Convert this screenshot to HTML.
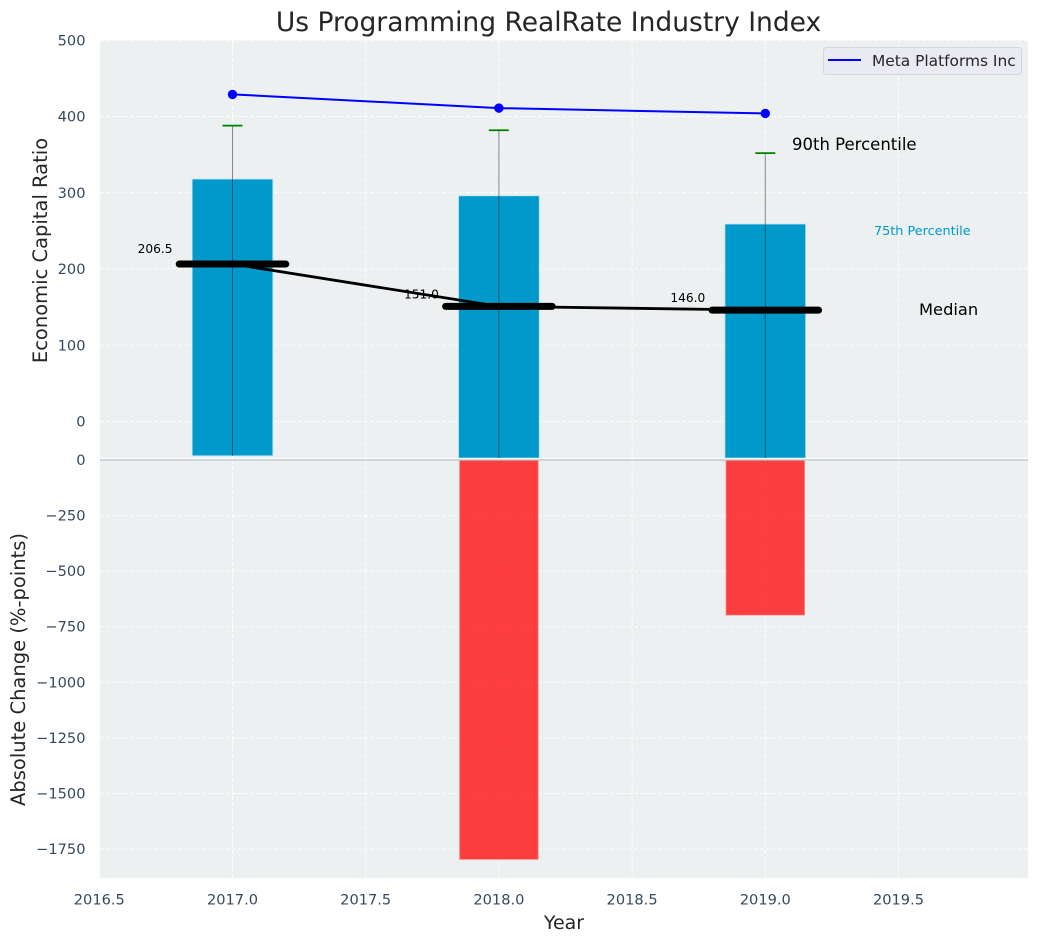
<!DOCTYPE html>
<html>
<head>
<meta charset="utf-8">
<title>Us Programming RealRate Industry Index</title>
<style>
html,body{margin:0;padding:0;background:#fff;width:1039px;height:942px;overflow:hidden}
svg{display:block}
text{font-family:"DejaVu Sans","Liberation Sans",sans-serif}
</style>
</head>
<body>
<svg id="chart" xmlns="http://www.w3.org/2000/svg" width="1039" height="942" viewBox="0 0 1039 942"></svg>
<script>
const years = [2017, 2018, 2019];
const p75 = [318, 296, 259];
const p25 = [-45, -48, -48];
const p90 = [388, 382, 352];
const medians = [206.5, 151.0, 146.0];
const company = [429, 411, 404];
const changes = [0, -1796, -697];
const xTicks = [2016.5, 2017.0, 2017.5, 2018.0, 2018.5, 2019.0, 2019.5];
const topTicks = [0, 100, 200, 300, 400, 500];
const bottomTicks = [0, -250, -500, -750, -1000, -1250, -1500, -1750];

const svg = document.getElementById('chart');
const NS = 'http://www.w3.org/2000/svg';
const L = 100, R = 1028, T = 40, M = 459.5, M2 = 460, B = 878;
const X = v => 232.5 + (v - 2017) * 266.4;
const YT = v => 421.5 - v * 0.7625;
const YB = v => 460 - v * 0.2223;

function mk(tag, attrs, name, text) {
  const e = document.createElementNS(NS, tag);
  for (const k in attrs) e.setAttribute(k, attrs[k]);
  
  
  if (text !== undefined) e.textContent = text;
  svg.appendChild(e);
  return e;
}
const fmt = v => (v < 0 ? '\u2212' : '') + Math.abs(v);
const tickColor = '#34495e';
const gridStyle = {stroke:'#fff','stroke-width':1,'stroke-dasharray':'4 2','stroke-opacity':0.85};

mk('rect',{x:L,y:T,width:R-L,height:M-T,fill:'#ecf0f1'},'top-panel-background');
mk('rect',{x:L,y:M2,width:R-L,height:B-M2,fill:'#ecf0f1'},'bottom-panel-background');

xTicks.forEach(v => {
  mk('line',Object.assign({x1:X(v),x2:X(v),y1:T,y2:M},gridStyle),'top-x-gridline');
  mk('line',Object.assign({x1:X(v),x2:X(v),y1:M2,y2:B},gridStyle),'bottom-x-gridline');
  mk('text',{x:X(v),y:904.5,'text-anchor':'middle','font-size':14.6,fill:tickColor},'x-tick-label',v.toFixed(1));
});
topTicks.forEach(v => {
  mk('line',Object.assign({x1:L,x2:R,y1:YT(v),y2:YT(v)},gridStyle),'top-y-gridline');
  mk('text',{x:85.5,y:YT(v)+5,'text-anchor':'end','font-size':14.6,fill:tickColor},'top-y-tick-label',fmt(v));
});
bottomTicks.forEach(v => {
  mk('line',Object.assign({x1:L,x2:R,y1:YB(v),y2:YB(v)},gridStyle),'bottom-y-gridline');
  mk('text',{x:85.5,y:YB(v)+5,'text-anchor':'end','font-size':14.6,fill:tickColor},'bottom-y-tick-label',fmt(v));
});

const barW = 0.303;
years.forEach((yr,i) => {
  mk('rect',{x:X(yr-barW/2),y:YT(p75[i]),width:X(yr+barW/2)-X(yr-barW/2),height:YT(p25[i])-YT(p75[i]),fill:'#0099cc',stroke:'#bfe5f2','stroke-width':0.8},'percentile-bar-'+yr);
  mk('line',{x1:X(yr),x2:X(yr),y1:YT(p90[i]),y2:YT(p25[i]),stroke:'#000','stroke-width':1,'stroke-opacity':0.45},'whisker-'+yr);
  mk('line',{x1:X(yr)-10,x2:X(yr)+10,y1:YT(p90[i]),y2:YT(p90[i]),stroke:'#008000','stroke-width':1.7},'p90-cap-'+yr);
  if (changes[i] !== 0) {
    mk('rect',{x:X(yr-0.147),y:YB(0),width:X(yr+0.147)-X(yr-0.147),height:YB(changes[i])-YB(0),fill:'#ff2a2a','fill-opacity':0.9,stroke:'#ff6a6a','stroke-width':0.8},'change-bar-'+yr);
  }
});

mk('polyline',{points:years.map((yr,i)=>X(yr)+','+YT(medians[i])).join(' '),fill:'none',stroke:'#000','stroke-width':2.8},'median-line');
years.forEach((yr,i) => {
  mk('line',{x1:X(yr-0.2),x2:X(yr+0.2),y1:YT(medians[i]),y2:YT(medians[i]),stroke:'#000','stroke-width':7,'stroke-linecap':'round'},'median-marker-'+yr);
  mk('text',{x:X(yr)-60,y:YT(medians[i])-(i===0?11:8),'text-anchor':'end','font-size':12.2,fill:'#000'},'median-value-'+yr,medians[i].toFixed(1));
});

mk('polyline',{points:years.map((yr,i)=>X(yr)+','+YT(company[i])).join(' '),fill:'none',stroke:'#0000ff','stroke-width':2},'company-line');
years.forEach((yr,i) => {
  mk('circle',{cx:X(yr),cy:YT(company[i]),r:4.7,fill:'#0000ff'},'company-point-'+yr);
});

mk('line',{x1:L,x2:R,y1:460,y2:460,stroke:'#bdc3c7','stroke-width':1.2},'zero-line');
mk('line',{x1:L,x2:R,y1:458.6,y2:458.6,stroke:'#fff','stroke-width':1},'panel-divider');

mk('text',{x:792,y:150,'font-size':16.5,fill:'#000'},'p90-annotation','90th Percentile');
mk('text',{x:874,y:235,'font-size':12.8,fill:'#0099cc'},'p75-annotation','75th Percentile');
mk('text',{x:919,y:315,'font-size':16.3,fill:'#000'},'median-annotation','Median');

mk('text',{x:548.5,y:31,'text-anchor':'middle','font-size':26.5,fill:'#262626'},'chart-title','Us Programming RealRate Industry Index');
mk('text',{x:564,y:929,'text-anchor':'middle','font-size':19,fill:'#262626'},'x-axis-title','Year');
mk('text',{x:0,y:0,transform:'translate(47,250.5) rotate(-90)','text-anchor':'middle','font-size':19.5,fill:'#262626'},'top-y-axis-title','Economic Capital Ratio');
mk('text',{x:0,y:0,transform:'translate(25,669.5) rotate(-90)','text-anchor':'middle','font-size':19.5,fill:'#262626'},'bottom-y-axis-title','Absolute Change (%-points)');

mk('rect',{x:823.5,y:47.5,width:198,height:27,rx:3,fill:'#eaeaf2',stroke:'#d5d5dc','stroke-width':1},'legend-box');
mk('line',{x1:828,x2:861,y1:60,y2:60,stroke:'#0000ff','stroke-width':2},'legend-line');
mk('text',{x:872,y:66,'font-size':15.4,fill:'#262626'},'legend-label','Meta Platforms Inc');
</script>
</body>
</html>
